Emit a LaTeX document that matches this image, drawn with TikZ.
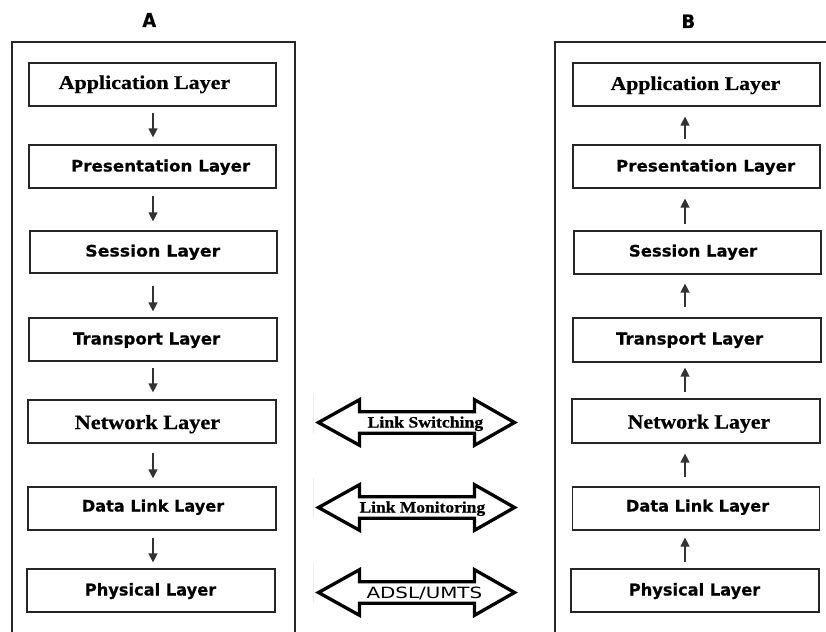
\documentclass[tikz,border=0pt]{standalone}
\usepackage{fontspec}
\usepackage{graphicx}
\usetikzlibrary{arrows.meta}
\newfontfamily\dvs{DejaVu Sans}
\newfontfamily\dvsH{DejaVu Sans}[BoldFeatures={FakeBold=0.6}]
\newfontfamily\lsfH{Liberation Serif}[BoldFeatures={FakeBold=0.6}]
\newcommand{\fitT}[4]{\resizebox{#2pt}{#3pt}{#1 #4}}
\definecolor{pale}{HTML}{FFF2A8}
\tikzset{
  frame/.style={draw=black!85, line width=1.3pt},
  layerbox/.style={draw=black!85, line width=1.2pt, fill=white, inner sep=0pt},
  lbl/.style={anchor=base west, inner sep=0pt},
  arr/.style={draw=black!80, line width=1.3pt, -{Triangle[width=9pt,length=9pt]}},
  dbl/.style={draw=black, line width=3.3pt, line join=miter, fill=white},
  yel/.style={draw=pale, line width=1pt}
}
\newcommand{\sansL}{\dvsH\bfseries}
\newcommand{\serL}{\lsfH\bfseries}
\begin{document}
\begin{tikzpicture}[x=1pt,y=-1pt]
\useasboundingbox (0,0) rectangle (826,631);
\fill[white] (0,0) rectangle (826,631);
% frames
\draw[frame] (12,640) -- (12,42) -- (295,42) -- (295,640);
\draw[frame] (555,640) -- (555,42) -- (840,42);
\node[lbl] (labA) at (136,27) {\fitT{\sansL}{20}{14}{A}};
\node[lbl] (labB) at (675,28) {\fitT{\sansL}{20}{13.5}{B}};
% left boxes
\node[layerbox, minimum width=247pt, minimum height=43pt] (a1) at (152.5,84.5) {};
\node[layerbox, minimum width=247pt, minimum height=43pt] (a2) at (152.5,166.5) {};
\node[layerbox, minimum width=247pt, minimum height=42pt] (a3) at (153.5,252) {};
\node[layerbox, minimum width=248pt, minimum height=43pt] (a4) at (153,339.5) {};
\node[layerbox, minimum width=248pt, minimum height=43pt] (a5) at (152,421.5) {};
\node[layerbox, minimum width=248pt, minimum height=43pt] (a6) at (152,508.5) {};
\node[layerbox, minimum width=248pt, minimum height=43pt] (a7) at (151,590.5) {};
% right boxes
\node[layerbox, minimum width=247pt, minimum height=43pt] (b1) at (696.5,84.5) {};
\node[layerbox, minimum width=247pt, minimum height=43pt] (b2) at (696.5,166.5) {};
\node[layerbox, minimum width=247pt, minimum height=43pt] (b3) at (697.5,252.5) {};
\node[layerbox, minimum width=248pt, minimum height=44pt] (b4) at (697,340) {};
\node[layerbox, minimum width=248pt, minimum height=44pt] (b5) at (696,421) {};
\node[layerbox, minimum width=247pt, minimum height=43pt] (b6) at (696,508.5) {};
\node[layerbox, minimum width=248pt, minimum height=43pt] (b7) at (695,590.5) {};
% left labels
\node[lbl] (a1t) at (53,89) {\fitT{\serL}{177}{13.5}{Application Layer}};
\node[lbl] (a2t) at (65,171.5) {\fitT{\sansL}{185}{12}{Presentation Layer}};
\node[lbl] (a3t) at (79,256.5) {\fitT{\sansL}{141}{12}{Session Layer}};
\node[lbl] (a4t) at (67,344.5) {\fitT{\sansL}{153}{12}{Transport Layer}};
\node[lbl] (a5t) at (69,429) {\fitT{\serL}{151}{14}{Network Layer}};
\node[lbl] (a6t) at (76,511.5) {\fitT{\sansL}{148}{12}{Data Link Layer}};
\node[lbl] (a7t) at (79,595.5) {\fitT{\sansL}{137}{12.5}{Physical Layer}};
% right labels
\node[lbl] (b1t) at (605,90) {\fitT{\serL}{175}{13.5}{Application Layer}};
\node[lbl] (b2t) at (610,171.5) {\fitT{\sansL}{185}{12}{Presentation Layer}};
\node[lbl] (b3t) at (623,256.5) {\fitT{\sansL}{134}{12}{Session Layer}};
\node[lbl] (b4t) at (610,344.5) {\fitT{\sansL}{153}{12}{Transport Layer}};
\node[lbl] (b5t) at (622,428.5) {\fitT{\serL}{148}{14}{Network Layer}};
\node[lbl] (b6t) at (620,511.5) {\fitT{\sansL}{149}{12}{Data Link Layer}};
\node[lbl] (b7t) at (623,595.5) {\fitT{\sansL}{137}{12.5}{Physical Layer}};
% arrow columns
\coordinate (ax) at (153,0);
\coordinate (bx) at (685,0);
\draw[arr, shorten <=6pt, shorten >=7pt] (a1.south -| ax) -- (a2.north -| ax);
\draw[arr, shorten <=7pt, shorten >=9pt] (a2.south -| ax) -- (a3.north -| ax);
\draw[arr, shorten <=12pt, shorten >=6pt] (a3.south -| ax) -- (a4.north -| ax);
\draw[arr, shorten <=6pt, shorten >=7pt] (a4.south -| ax) -- (a5.north -| ax);
\draw[arr, shorten <=9pt, shorten >=8pt] (a5.south -| ax) -- (a6.north -| ax);
\draw[arr, shorten <=7pt, shorten >=6pt] (a6.south -| ax) -- (a7.north -| ax);
\draw[arr, shorten <=5pt, shorten >=10pt] (b2.north -| bx) -- (b1.south -| bx);
\draw[arr, shorten <=6pt, shorten >=10pt] (b3.north -| bx) -- (b2.south -| bx);
\draw[arr, shorten <=10pt, shorten >=9pt] (b4.north -| bx) -- (b3.south -| bx);
\draw[arr, shorten <=6pt, shorten >=5pt] (b5.north -| bx) -- (b4.south -| bx);
\draw[arr, shorten <=9pt, shorten >=10pt] (b6.north -| bx) -- (b5.south -| bx);
\draw[arr, shorten <=6pt, shorten >=7pt] (b7.north -| bx) -- (b6.south -| bx);
% double arrows
\foreach \cy in {422.5, 507.5, 592.5}{
  \draw[yel] (313,\cy-30) -- (313,\cy+10.5);
  \draw[dbl] (318.5,\cy) -- (359.5,\cy-22.8) -- (359.5,\cy-10.8) -- (474.5,\cy-10.8)
     -- (474.5,\cy-22.8) -- (514.5,\cy) -- (474.5,\cy+22.8) -- (474.5,\cy+10.8)
     -- (359.5,\cy+10.8) -- (359.5,\cy+22.8) -- cycle;
}
\node[lbl] (sw) at (363,427.5) {\fitT{\serL}{120}{11}{Link Switching}};
\node[lbl] (mo) at (355,512.5) {\fitT{\serL}{130}{11}{Link Monitoring}};
\node[lbl] (ad) at (360,598) {\fitT{\dvs}{122}{11.5}{ADSL/UMTS}};
\end{tikzpicture}
\end{document}
